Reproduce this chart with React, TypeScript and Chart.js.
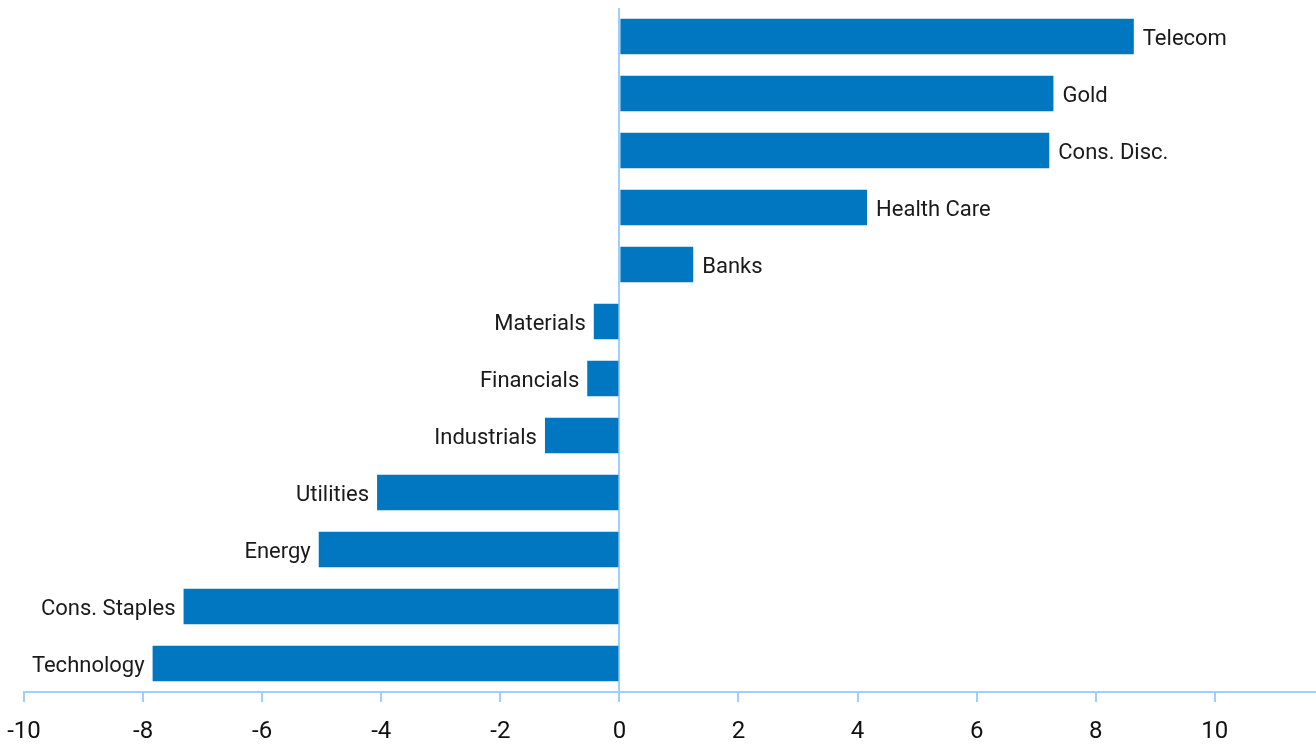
import React, { useEffect, useRef } from "react";
import { Chart, registerables } from "chart.js";

Chart.register(...registerables);

const categories = [
  "Telecom",
  "Gold",
  "Cons. Disc.",
  "Health Care",
  "Banks",
  "Materials",
  "Financials",
  "Industrials",
  "Utilities",
  "Energy",
  "Cons. Staples",
  "Technology",
];
const values = [8.64, 7.29, 7.22, 4.16, 1.24, -0.43, -0.54, -1.25, -4.07, -5.05, -7.32, -7.84];
const tickValues = [-10, -8, -6, -4, -2, 0, 2, 4, 6, 8, 10];

const BAR = "#0077C0";
const AXIS = "#9fcfff";
const FONT = "Roboto";

const labelPlugin = {
  id: "barLabels",
  afterDatasetsDraw(chart: any) {
    const ctx = chart.ctx;
    const meta = chart.getDatasetMeta(0);
    ctx.save();
    ctx.font = `22px ${FONT}`;
    ctx.fillStyle = "#1a1a1a";
    ctx.textBaseline = "alphabetic";
    meta.data.forEach((bar: any, i: number) => {
      const v = values[i];
      const y = bar.y + 22 * 0.38;
      if (v >= 0) {
        ctx.textAlign = "left";
        ctx.fillText(categories[i], bar.x + 9, y);
      } else {
        ctx.textAlign = "right";
        ctx.fillText(categories[i], bar.x - 8, y);
      }
    });
    ctx.restore();
  },
};

export default function App() {
  const ref = useRef<HTMLCanvasElement | null>(null);
  useEffect(() => {
    if (!ref.current) return;
    const chart = new Chart(ref.current, {
      type: "bar",
      data: {
        labels: categories,
        datasets: [
          {
            data: values,
            backgroundColor: BAR,
            borderWidth: 0,
            barPercentage: 0.626,
            categoryPercentage: 1,
          },
        ],
      },
      options: {
        indexAxis: "y",
        animation: false,
        responsive: false,
        maintainAspectRatio: false,
        layout: { padding: { left: 24, right: 0, top: 8, bottom: 0 } },
        plugins: {
          legend: { display: false },
          tooltip: { enabled: false },
        },
        scales: {
          x: {
            type: "linear",
            min: -10,
            max: 11.7,
            afterBuildTicks: (scale: any) => {
              scale.ticks = tickValues.map((v) => ({ value: v }));
            },
            afterFit: (scale: any) => {
              scale.height = 56;
            },
            grid: {
              color: (c: any) => (c.tick && c.tick.value === 0 ? AXIS : "rgba(0,0,0,0)"),
              lineWidth: 2,
              drawTicks: true,
              tickLength: 10,
              tickColor: AXIS,
              tickWidth: 2,
            },
            border: { display: true, color: AXIS, width: 2 },
            ticks: {
              color: "#111",
              font: { family: FONT, size: 24, lineHeight: 2.5 },
              padding: 0,
              maxRotation: 0,
              autoSkip: false,
            },
          },
          y: {
            display: false,
          },
        },
      },
      plugins: [labelPlugin],
    });
    return () => chart.destroy();
  }, []);
  return (
    <div style={{ position: "fixed", left: 0, top: 0, width: 1316, height: 748, background: "#fff" }}>
      <canvas ref={ref} width={1316} height={748} style={{ width: 1316, height: 748 }} />
    </div>
  );
}
